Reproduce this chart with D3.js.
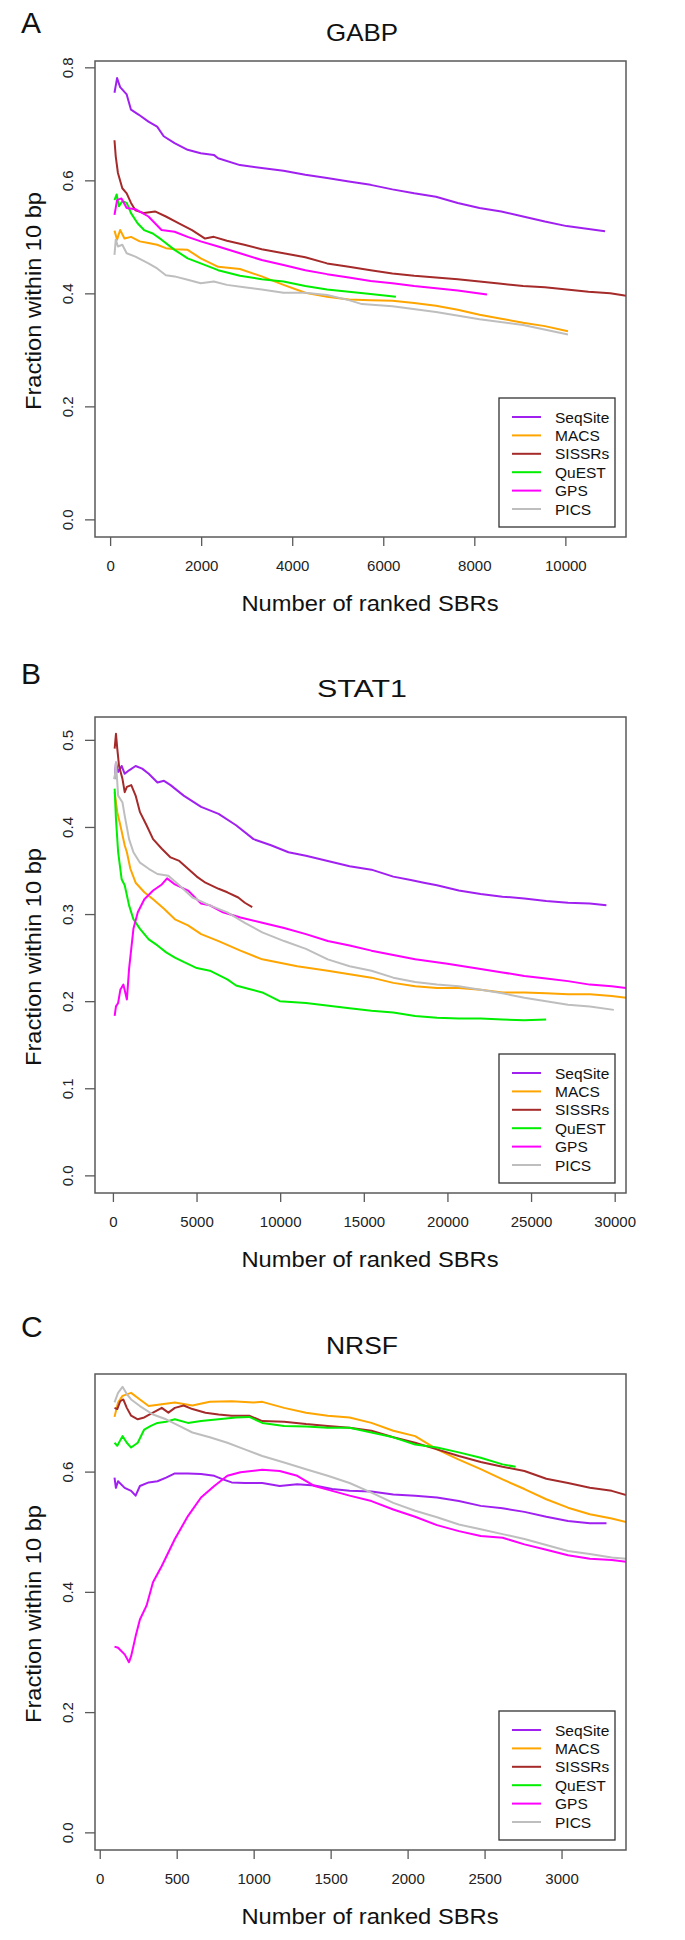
<!DOCTYPE html>
<html><head><meta charset="utf-8">
<script src="https://cdn.jsdelivr.net/npm/d3@7"></script>
<style>
html,body{margin:0;padding:0;background:#fff;}
svg{display:block;font-family:"Liberation Sans",Arial,Helvetica,sans-serif;}
</style></head>
<body><svg id="chart" width="685" height="1940"></svg>
<script>
// ---------------- DATA ----------------
const methods = ["SeqSite", "MACS", "SISSRs", "QuEST", "GPS", "PICS"];
const methodColors = ["#A020F0", "#FFA500", "#A52A2A", "#00EE00", "#FF00FF", "#BEBEBE"];

const panelLetters = ["A", "B", "C"];
const panelTitles = ["GABP", "STAT1", "NRSF"];
const xAxisTitle = "Number of ranked SBRs";
const yAxisTitle = "Fraction within 10 bp";

const gabpXLim = [100, 10900], gabpYLim = [0, 0.78];
const gabpXTicks = [0, 2000, 4000, 6000, 8000, 10000];
const gabpYTicks = [0, 0.2, 0.4, 0.6, 0.8];
const stat1XLim = [105, 29500], stat1YLim = [0, 0.506];
const stat1XTicks = [0, 5000, 10000, 15000, 20000, 25000, 30000];
const stat1YTicks = [0, 0.1, 0.2, 0.3, 0.4, 0.5];
const nrsfXLim = [97, 3291], nrsfYLim = [0, 0.733];
const nrsfXTicks = [0, 500, 1000, 1500, 2000, 2500, 3000];
const nrsfYTicks = [0, 0.2, 0.4, 0.6];

// GABP series [rank, fraction]
const gabpSeqSite = [[96,0.755],[153,0.781],[220,0.765],[364,0.752],[459,0.725],[632,0.716],[842,0.704],[1033,0.695],[1177,0.678],[1416,0.666],[1703,0.654],[1990,0.648],[2278,0.645],[2373,0.639],[2852,0.627],[3330,0.622],[3809,0.617],[4287,0.610],[4766,0.604],[5244,0.598],[5722,0.592],[6201,0.584],[6679,0.577],[7158,0.571],[7636,0.560],[8115,0.551],[8593,0.545],[9072,0.536],[9550,0.527],[10029,0.519],[10871,0.510]];
const gabpMACS = [[96,0.511],[153,0.495],[220,0.512],[316,0.497],[459,0.500],[651,0.492],[842,0.489],[1033,0.486],[1225,0.480],[1416,0.478],[1703,0.477],[1990,0.462],[2373,0.447],[2852,0.443],[3330,0.430],[3809,0.415],[4287,0.401],[4766,0.394],[5244,0.389],[5722,0.388],[6201,0.387],[6679,0.383],[7158,0.378],[7636,0.371],[8115,0.362],[8593,0.355],[9072,0.348],[9550,0.342],[10057,0.333]];
const gabpSISSRs = [[96,0.671],[124,0.642],[172,0.613],[268,0.586],[364,0.577],[459,0.560],[555,0.547],[746,0.542],[986,0.545],[1225,0.536],[1512,0.524],[1799,0.512],[2086,0.497],[2278,0.500],[2565,0.493],[2947,0.486],[3330,0.478],[3809,0.471],[4287,0.464],[4766,0.453],[5244,0.447],[5722,0.441],[6201,0.435],[6679,0.431],[7158,0.428],[7636,0.425],[8115,0.421],[8593,0.417],[9072,0.413],[9550,0.411],[10029,0.407],[10507,0.403],[10986,0.400],[11301,0.396],[11500,0.394]];
const gabpQuEST = [[96,0.565],[144,0.575],[191,0.554],[268,0.563],[364,0.560],[459,0.542],[603,0.524],[746,0.512],[938,0.506],[1129,0.495],[1416,0.477],[1703,0.462],[1990,0.453],[2373,0.441],[2852,0.431],[3330,0.425],[3809,0.421],[4287,0.413],[4766,0.407],[5244,0.403],[5722,0.399],[6278,0.394]];
const gabpGPS = [[96,0.539],[153,0.565],[249,0.568],[364,0.551],[555,0.549],[842,0.536],[1129,0.512],[1416,0.509],[1703,0.500],[1990,0.492],[2373,0.483],[2852,0.471],[3330,0.459],[3809,0.450],[4287,0.441],[4766,0.434],[5244,0.428],[5722,0.422],[6201,0.418],[6679,0.413],[7158,0.409],[7636,0.405],[8278,0.398]];
const gabpPICS = [[96,0.468],[124,0.495],[172,0.483],[268,0.486],[364,0.471],[555,0.465],[842,0.453],[1033,0.444],[1225,0.432],[1416,0.430],[1703,0.424],[1990,0.418],[2278,0.421],[2565,0.415],[2947,0.411],[3330,0.407],[3809,0.401],[4287,0.401],[4766,0.397],[5244,0.388],[5531,0.381],[6201,0.377],[7158,0.367],[8115,0.354],[9072,0.344],[10057,0.327]];

// STAT1 series
const stat1SeqSite = [[104,0.455],[183,0.474],[313,0.463],[522,0.470],[705,0.461],[966,0.465],[1358,0.470],[1749,0.467],[2141,0.461],[2663,0.451],[3055,0.453],[3447,0.448],[4230,0.436],[5274,0.423],[6319,0.415],[7363,0.402],[8407,0.386],[9452,0.379],[10496,0.371],[11541,0.367],[12846,0.361],[14152,0.355],[15457,0.351],[16763,0.343],[17807,0.339],[18590,0.336],[19374,0.333],[20679,0.327],[21985,0.323],[23290,0.320],[24596,0.318],[25901,0.315],[27207,0.313],[28512,0.312],[29504,0.310]];
const stat1MACS = [[104,0.440],[261,0.417],[444,0.402],[705,0.379],[836,0.371],[1044,0.352],[1358,0.336],[1880,0.325],[2402,0.317],[3055,0.306],[3708,0.294],[4491,0.287],[5274,0.277],[6319,0.269],[7624,0.258],[8929,0.248],[9974,0.244],[11019,0.240],[12846,0.235],[14152,0.231],[15457,0.227],[16763,0.221],[18068,0.217],[19374,0.215],[20679,0.215],[21985,0.213],[23290,0.210],[24596,0.210],[25901,0.209],[27207,0.208],[28512,0.208],[29818,0.206],[30680,0.204],[31000,0.203]];
const stat1SISSRs = [[104,0.490],[183,0.507],[261,0.490],[366,0.470],[574,0.455],[705,0.440],[836,0.446],[1097,0.448],[1358,0.436],[1619,0.417],[2011,0.402],[2402,0.386],[2924,0.375],[3447,0.365],[3969,0.361],[4491,0.352],[5013,0.343],[5535,0.336],[6319,0.329],[6841,0.325],[7494,0.319],[7886,0.313],[8330,0.308]];
const stat1QuEST = [[104,0.444],[183,0.409],[313,0.371],[522,0.340],[705,0.333],[966,0.310],[1227,0.294],[1619,0.283],[2141,0.271],[2663,0.264],[3186,0.256],[3708,0.250],[4230,0.245],[5013,0.238],[5796,0.235],[6841,0.225],[7363,0.218],[8146,0.214],[8929,0.210],[9974,0.200],[11541,0.198],[14152,0.192],[15457,0.189],[16763,0.187],[18068,0.183],[19374,0.181],[20679,0.180],[21985,0.180],[23290,0.179],[24596,0.178],[25901,0.179]];
const stat1GPS = [[104,0.183],[183,0.194],[313,0.198],[444,0.213],[627,0.219],[836,0.202],[966,0.237],[1227,0.283],[1488,0.302],[1880,0.317],[2402,0.327],[2924,0.334],[3238,0.341],[3708,0.334],[4491,0.327],[5274,0.312],[5796,0.310],[6580,0.302],[7624,0.296],[8929,0.290],[10235,0.284],[11541,0.277],[12846,0.269],[14152,0.264],[15457,0.258],[16763,0.253],[18068,0.248],[20000,0.243],[21985,0.237],[23290,0.233],[24596,0.229],[25901,0.226],[27207,0.223],[28512,0.219],[29818,0.217],[30680,0.215],[31000,0.214]];
const stat1PICS = [[104,0.455],[183,0.474],[313,0.436],[574,0.428],[705,0.413],[966,0.386],[1227,0.371],[1619,0.359],[2141,0.352],[2663,0.346],[3316,0.344],[3969,0.333],[4752,0.319],[5796,0.310],[6841,0.302],[7886,0.290],[8929,0.279],[10235,0.269],[11541,0.260],[12846,0.248],[14152,0.240],[15457,0.235],[16763,0.227],[18068,0.222],[19374,0.219],[20679,0.217],[21985,0.213],[23290,0.209],[24596,0.204],[25901,0.200],[27207,0.196],[28512,0.194],[29948,0.190]];

// NRSF series
const nrsfSeqSite = [[96,0.590],[105,0.573],[119,0.584],[162,0.573],[204,0.568],[233,0.560],[261,0.576],[318,0.582],[375,0.584],[431,0.590],[488,0.597],[573,0.597],[658,0.596],[744,0.593],[800,0.587],[857,0.582],[942,0.581],[1056,0.581],[1169,0.576],[1283,0.579],[1396,0.577],[1510,0.571],[1623,0.568],[1765,0.567],[1907,0.562],[2049,0.560],[2191,0.557],[2333,0.551],[2475,0.543],[2617,0.539],[2759,0.533],[2901,0.525],[3042,0.518],[3184,0.514],[3292,0.514]];
const nrsfMACS = [[96,0.691],[119,0.715],[148,0.726],[204,0.731],[261,0.720],[318,0.709],[403,0.712],[488,0.715],[602,0.710],[715,0.716],[857,0.717],[999,0.715],[1056,0.716],[1198,0.706],[1340,0.698],[1481,0.693],[1623,0.690],[1765,0.681],[1907,0.668],[2049,0.659],[2191,0.637],[2333,0.620],[2475,0.604],[2617,0.587],[2759,0.571],[2901,0.554],[3042,0.540],[3184,0.529],[3326,0.522],[3420,0.516],[3480,0.514]];
const nrsfSISSRs = [[96,0.706],[114,0.704],[133,0.717],[153,0.720],[176,0.706],[204,0.693],[247,0.687],[289,0.690],[346,0.698],[403,0.706],[446,0.698],[488,0.706],[545,0.710],[602,0.704],[687,0.698],[772,0.695],[857,0.693],[971,0.693],[1056,0.684],[1198,0.683],[1340,0.679],[1481,0.676],[1623,0.673],[1765,0.668],[1907,0.657],[2049,0.648],[2191,0.637],[2333,0.626],[2475,0.616],[2617,0.608],[2759,0.601],[2901,0.588],[3042,0.581],[3184,0.573],[3326,0.568],[3420,0.561],[3480,0.558]];
const nrsfQuEST = [[96,0.648],[114,0.643],[148,0.659],[176,0.648],[204,0.640],[247,0.648],[289,0.670],[332,0.676],[375,0.681],[431,0.683],[488,0.687],[573,0.681],[658,0.684],[772,0.687],[885,0.690],[971,0.691],[1056,0.681],[1198,0.676],[1340,0.675],[1481,0.673],[1623,0.673],[1765,0.665],[1907,0.657],[2049,0.645],[2191,0.640],[2333,0.632],[2475,0.623],[2617,0.612],[2702,0.608]];
const nrsfGPS = [[96,0.309],[119,0.307],[162,0.296],[190,0.283],[204,0.293],[233,0.326],[261,0.354],[304,0.377],[346,0.416],[403,0.443],[488,0.488],[573,0.526],[658,0.557],[744,0.576],[829,0.593],[914,0.599],[1056,0.603],[1169,0.601],[1283,0.593],[1396,0.576],[1510,0.568],[1623,0.560],[1765,0.551],[1907,0.537],[2049,0.525],[2191,0.511],[2333,0.501],[2475,0.493],[2617,0.490],[2759,0.479],[2901,0.470],[3042,0.461],[3184,0.455],[3326,0.453],[3420,0.450],[3480,0.449]];
const nrsfPICS = [[96,0.715],[119,0.731],[148,0.741],[176,0.729],[204,0.720],[261,0.709],[346,0.695],[431,0.687],[516,0.676],[602,0.665],[715,0.657],[829,0.648],[942,0.637],[1056,0.626],[1198,0.615],[1340,0.604],[1481,0.593],[1623,0.581],[1765,0.565],[1907,0.548],[2049,0.535],[2191,0.524],[2333,0.512],[2475,0.504],[2617,0.496],[2759,0.488],[2901,0.478],[3042,0.468],[3184,0.463],[3326,0.457],[3420,0.455],[3480,0.454]];

// ---------------- LAYOUT ----------------
const panels = [
  {letter: panelLetters[0], title: panelTitles[0], xlim: gabpXLim, ylim: gabpYLim, xt: gabpXTicks, yt: gabpYTicks, yfmt: ".1f",
   series: [gabpSeqSite, gabpMACS, gabpSISSRs, gabpQuEST, gabpGPS, gabpPICS], off: 0, letterY: 33},
  {letter: panelLetters[1], title: panelTitles[1], xlim: stat1XLim, ylim: stat1YLim, xt: stat1XTicks, yt: stat1YTicks, yfmt: ".1f",
   series: [stat1SeqSite, stat1MACS, stat1SISSRs, stat1QuEST, stat1GPS, stat1PICS], off: 656, letterY: 27.5},
  {letter: panelLetters[2], title: panelTitles[2], xlim: nrsfXLim, ylim: nrsfYLim, xt: nrsfXTicks, yt: nrsfYTicks, yfmt: ".1f",
   series: [nrsfSeqSite, nrsfMACS, nrsfSISSRs, nrsfQuEST, nrsfGPS, nrsfPICS], off: 1313, letterY: 23.5}
];

const L = 95, R = 626, T = 61, B = 537;
const boxColor = "#5a5a5a";
const svg = d3.select("#chart");

function padded(lim) {
  const d = lim[1] - lim[0];
  return [lim[0] - 0.04 * d, lim[1] + 0.04 * d];
}

panels.forEach((p, pi) => {
  const g = svg.append("g").attr("transform", `translate(0,${p.off})`);
  const x = d3.scaleLinear().domain(padded(p.xlim)).range([L, R]);
  const y = d3.scaleLinear().domain(padded(p.ylim)).range([B, T]);

  // panel letter
  g.append("text").attr("x", 21).attr("y", p.letterY)
    .attr("font-size", 30).attr("fill", "#111").text(p.letter);
  // title
  g.append("text").attr("x", 362).attr("y", 40.5).attr("text-anchor", "middle")
    .attr("font-size", 24).attr("fill", "#111")
    .attr("textLength", p.title.length * 18).attr("lengthAdjust", "spacingAndGlyphs")
    .text(p.title);

  // clip
  const cid = "clip" + pi;
  g.append("clipPath").attr("id", cid).append("rect")
    .attr("x", L).attr("y", T).attr("width", R - L).attr("height", B - T);

  // series lines
  const line = d3.line().x(d => x(d[0])).y(d => y(d[1]));
  const lg = g.append("g").attr("clip-path", `url(#${cid})`);
  p.series.forEach((s, i) => {
    lg.append("path").datum(s).attr("d", line)
      .attr("fill", "none").attr("stroke", methodColors[i])
      .attr("stroke-width", 2).attr("stroke-linejoin", "round");
  });

  // box
  g.append("rect").attr("x", L).attr("y", T).attr("width", R - L).attr("height", B - T)
    .attr("fill", "none").attr("stroke", boxColor).attr("stroke-width", 1.5);

  // x axis
  const xa = g.append("g").attr("transform", `translate(0,${B})`)
    .call(d3.axisBottom(x).tickValues(p.xt).tickSize(9).tickPadding(0).tickFormat(d3.format("d")));
  xa.select(".domain").remove();
  xa.selectAll(".tick line").attr("stroke", boxColor).attr("stroke-width", 1.3);
  xa.selectAll(".tick text").attr("font-size", 15).attr("fill", "#222")
    .attr("font-family", "Liberation Sans, Arial, sans-serif")
    .attr("dy", null).attr("y", 33.7);

  // y axis
  const ya = g.append("g").attr("transform", `translate(${L},0)`)
    .call(d3.axisLeft(y).tickValues(p.yt).tickSize(10).tickFormat(d3.format(p.yfmt)));
  ya.select(".domain").remove();
  ya.selectAll(".tick line").attr("stroke", boxColor).attr("stroke-width", 1.3);
  ya.selectAll(".tick text").attr("font-size", 15).attr("fill", "#222")
    .attr("font-family", "Liberation Sans, Arial, sans-serif")
    .attr("x", null).attr("dy", null)
    .attr("text-anchor", "middle")
    .attr("transform", "translate(-22.5,0) rotate(-90)");

  // axis titles
  g.append("text").attr("x", 370).attr("y", 610.5).attr("text-anchor", "middle")
    .attr("font-size", 22).attr("fill", "#111")
    .attr("textLength", 257).attr("lengthAdjust", "spacingAndGlyphs").text(xAxisTitle);
  g.append("text").attr("transform", `translate(41,${(T + B) / 2 + 2}) rotate(-90)`)
    .attr("text-anchor", "middle").attr("font-size", 22).attr("fill", "#111")
    .attr("textLength", 218).attr("lengthAdjust", "spacingAndGlyphs").text(yAxisTitle);

  // legend
  const lgd = g.append("g");
  lgd.append("rect").attr("x", 499).attr("y", 398).attr("width", 116).attr("height", 129)
    .attr("fill", "#fff").attr("stroke", "#333").attr("stroke-width", 1.3);
  methods.forEach((m, i) => {
    const cy = 417 + i * 18.4;
    lgd.append("line").attr("x1", 512).attr("x2", 541).attr("y1", cy).attr("y2", cy)
      .attr("stroke", methodColors[i]).attr("stroke-width", 2);
    lgd.append("text").attr("x", 555).attr("y", cy + 5.5).attr("font-size", 15.5)
      .attr("fill", "#111").text(m);
  });
});
</script></body></html>
